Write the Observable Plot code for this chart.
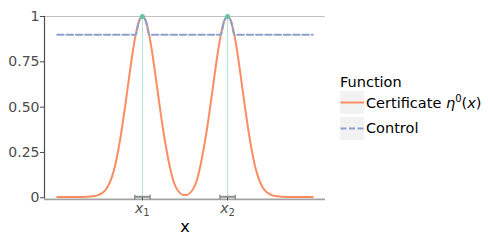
<!DOCTYPE html>
<html><head><meta charset="utf-8">
<script src="https://cdn.jsdelivr.net/npm/d3@7"></script>
<script src="https://cdn.jsdelivr.net/npm/@observablehq/plot@0.6"></script>
<style>body{margin:0;background:#fff;}</style>
</head><body><div id="chart"></div>
<script>
// ---- data ----
const xs = [0, 0.0133, 0.0267, 0.04, 0.0533, 0.0667, 0.08, 0.0933, 0.1067, 0.12,
  0.1333, 0.1467, 0.16, 0.1733, 0.1867, 0.2, 0.2133, 0.2267, 0.24, 0.2533,
  0.2667, 0.28, 0.2933, 0.3067, 0.32, 0.3333, 0.3467, 0.36, 0.3733, 0.3867,
  0.4, 0.4133, 0.4267, 0.44, 0.4533, 0.4667, 0.48, 0.4933, 0.5067, 0.52,
  0.5333, 0.5467, 0.56, 0.5733, 0.5867, 0.6, 0.6133, 0.6267, 0.64, 0.6533,
  0.6667, 0.68, 0.6933, 0.7067, 0.72, 0.7333, 0.7467, 0.76, 0.7733, 0.7867,
  0.8, 0.8133, 0.8267, 0.84, 0.8533, 0.8667, 0.88, 0.8933, 0.9067, 0.92,
  0.9333, 0.9467, 0.96, 0.9733, 0.9867, 1.0];
const certificate = [0.004, 0.004, 0.004, 0.004, 0.004, 0.004, 0.004, 0.004, 0.005, 0.006,
  0.008, 0.010, 0.015, 0.024, 0.040, 0.068, 0.113, 0.180, 0.272, 0.385,
  0.515, 0.652, 0.785, 0.897, 0.974, 1.000, 0.974, 0.897, 0.785, 0.652,
  0.515, 0.385, 0.272, 0.175, 0.098, 0.052, 0.027, 0.015, 0.015, 0.027,
  0.052, 0.098, 0.175, 0.272, 0.385, 0.515, 0.652, 0.785, 0.897, 0.974,
  1.000, 0.974, 0.897, 0.785, 0.652, 0.515, 0.385, 0.272, 0.180, 0.113,
  0.068, 0.040, 0.024, 0.015, 0.010, 0.008, 0.006, 0.005, 0.004, 0.004,
  0.004, 0.004, 0.004, 0.004, 0.004, 0.004];
const control = [0.9, 0.9, 0.9, 0.9, 0.9, 0.9, 0.9, 0.9, 0.9, 0.9,
  0.9, 0.9, 0.9, 0.9, 0.9, 0.9, 0.9, 0.9, 0.9, 0.9,
  0.9, 0.9, 0.9, 0.9, 0.974, 1.000, 0.974, 0.9, 0.9, 0.9,
  0.9, 0.9, 0.9, 0.9, 0.9, 0.9, 0.9, 0.9, 0.9, 0.9,
  0.9, 0.9, 0.9, 0.9, 0.9, 0.9, 0.9, 0.9, 0.9, 0.974,
  1.000, 0.974, 0.9, 0.9, 0.9, 0.9, 0.9, 0.9, 0.9, 0.9,
  0.9, 0.9, 0.9, 0.9, 0.9, 0.9, 0.9, 0.9, 0.9, 0.9,
  0.9, 0.9, 0.9, 0.9, 0.9, 0.9];
const spikes = [0.3333, 0.6667];
const spikeLabels = ["1", "2"];        // subscripts of x_i
const spikeHeight = [1, 1];
const errHalf = [0.03, 0.03];
const yTicks = [0, 0.25, 0.5, 0.75, 1];
const yTickLabels = ["0", "0.25", "0.50", "0.75", "1"];
const xTitle = "x";
const legendTitle = "Function";
const seriesNames = ["Certificate", "Control"];

const colOrange = "#fc8d62", colBlue = "#8da0cb", colGreen = "#66c2a5";

const curveData = xs.map((x, i) => ({x, cert: certificate[i], ctrl: control[i]}));
const spikeData = spikes.map((x, i) => ({x, h: spikeHeight[i], lo: x - errHalf[i], hi: x + errHalf[i]}));
const capData = spikeData.flatMap(d => [{x: d.lo}, {x: d.hi}]);

const vbar = {draw(ctx, size) { const r = Math.sqrt(size / Math.PI); ctx.moveTo(0, -r); ctx.lineTo(0, r); }};

const chart = Plot.plot({
  width: 488, height: 244,
  marginLeft: 44, marginRight: 163, marginTop: 16, marginBottom: 46.7,
  style: {fontFamily: "DejaVu Sans", fontSize: "14px", background: "white"},
  x: {domain: [-0.05, 1.05]},
  y: {domain: [0, 1]},
  marks: [
    Plot.ruleX(spikeData, {x: "x", y1: 0, y2: "h", stroke: colGreen, strokeOpacity: 0.5, strokeWidth: 1}),
    Plot.ruleY([1], {stroke: "#c2c2c2", strokeWidth: 1.2}),
    Plot.ruleY([0], {stroke: "#a3a3a3", strokeWidth: 1.7, dy: 1.5}),
    Plot.frame({anchor: "left", stroke: "#4d4d4d", strokeWidth: 1.2}),
    Plot.line(curveData, {x: "x", y: "cert", stroke: colOrange, strokeWidth: 2, curve: "monotone-x"}),
    Plot.line(curveData, {x: "x", y: "ctrl", stroke: colBlue, strokeWidth: 2, strokeDasharray: "6.5,2.8", curve: "monotone-x"}),
    Plot.dot(spikeData, {x: "x", y: "h", r: 2.5, fill: colGreen, stroke: "none"}),
    Plot.link(spikeData, {x1: "lo", x2: "hi", y1: 0, y2: 0, stroke: "#8f8f8f", strokeWidth: 2, dy: -1}),
    Plot.dot(capData, {x: "x", y: 0, symbol: vbar, r: 2.6, fill: "none", stroke: "#8f8f8f", strokeWidth: 1.5, dy: -0.5}),
    Plot.axisY({ticks: yTicks, tickFormat: d => yTickLabels[yTicks.indexOf(d)], tickSize: 4, tickPadding: 1, fontSize: 14, color: "#4d4d4d", label: null}),
    Plot.axisX({ticks: spikes, tickFormat: d => "x" + spikeLabels[spikes.indexOf(d)], tickSize: 3, tickPadding: 2, fontSize: 14, color: "#4d4d4d", label: null}),
    Plot.text([xTitle], {frameAnchor: "bottom", dy: 34, fontSize: 16, fill: "black"})
  ]
});

const svg = d3.select(chart);
// italic x with subscript on x tick labels
svg.selectAll('g[aria-label="x-axis tick label"] text').each(function(d, i) {
  const t = d3.select(this);
  const sub = spikeLabels[i];
  t.text(null);
  t.append("tspan").attr("font-style", "italic").text("x");
  t.append("tspan").attr("font-size", 10).attr("dy", "0.35em").text(sub);
});

// legend
const lg = svg.append("g").attr("font-family", "DejaVu Sans").attr("font-size", 14.5).attr("text-anchor", "start");
lg.append("text").attr("x", 340).attr("y", 87).attr("fill", "black").text(legendTitle);
const keyY = [91, 117];
keyY.forEach((y, i) => {
  lg.append("rect").attr("x", 340).attr("y", y).attr("width", 24).attr("height", 23).attr("fill", "#f2f2f2");
  const ln = lg.append("line").attr("x1", 340.5).attr("x2", 364).attr("y1", y + 11.5).attr("y2", y + 11.5)
    .attr("stroke", i === 0 ? colOrange : colBlue).attr("stroke-width", 2);
  if (i === 1) ln.attr("stroke-dasharray", "6,2.5");
});
const t1 = lg.append("text").attr("x", 366).attr("y", 108).attr("fill", "black");
t1.append("tspan").text(seriesNames[0] + " ");
t1.append("tspan").attr("font-style", "italic").text("η");
t1.append("tspan").attr("font-size", 10).attr("dy", -6).text("0");
t1.append("tspan").attr("dy", 6).text("(");
t1.append("tspan").attr("font-style", "italic").text("x");
t1.append("tspan").text(")");
lg.append("text").attr("x", 366).attr("y", 133).attr("fill", "black").text(seriesNames[1]);

document.getElementById("chart").append(chart);
</script>
</body></html>
